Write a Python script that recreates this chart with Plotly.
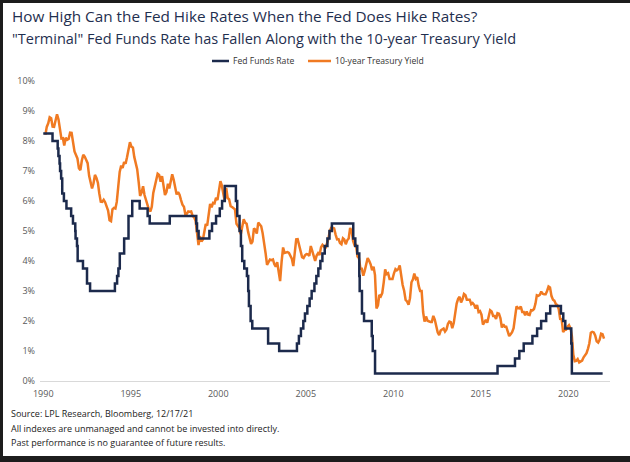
import pandas as pd
import plotly.graph_objects as go

# ---------------- data ----------------
ff_dates = ["1990-01-01","1990-07-13","1990-10-29","1990-11-13","1990-12-07","1990-12-18",
    "1991-01-09","1991-02-01","1991-03-08","1991-04-30","1991-08-06","1991-09-13","1991-10-31",
    "1991-11-06","1991-12-06","1991-12-20","1992-04-09","1992-07-02","1992-09-04",
    "1994-02-04","1994-03-22","1994-04-18","1994-05-17","1994-08-16","1994-11-15","1995-02-01",
    "1995-07-06","1995-12-19","1996-01-31","1997-03-25","1998-09-29","1998-10-15","1998-11-17",
    "1999-06-30","1999-08-24","1999-11-16","2000-02-02","2000-03-21","2000-05-16",
    "2001-01-03","2001-01-31","2001-03-20","2001-04-18","2001-05-15","2001-06-27","2001-08-21",
    "2001-09-17","2001-10-02","2001-11-06","2001-12-11","2002-11-06","2003-06-25",
    "2004-06-30","2004-08-10","2004-09-21","2004-11-10","2004-12-14","2005-02-02","2005-03-22",
    "2005-05-03","2005-06-30","2005-08-09","2005-09-20","2005-11-01","2005-12-13","2006-01-31",
    "2006-03-28","2006-05-10","2006-06-29","2007-09-18","2007-10-31","2007-12-11","2008-01-22",
    "2008-01-30","2008-03-18","2008-04-30","2008-10-08","2008-10-29","2008-12-16",
    "2015-12-16","2016-12-14","2017-03-15","2017-06-14","2017-12-13","2018-03-21","2018-06-13",
    "2018-09-26","2018-12-19","2019-07-31","2019-09-18","2019-10-30","2020-03-03","2020-03-15",
    "2021-12-17"]
ff_rate = [8.25,8.00,7.75,7.50,7.25,7.00,
    6.75,6.25,6.00,5.75,5.50,5.25,5.00,
    4.75,4.50,4.00,3.75,3.25,3.00,
    3.25,3.50,3.75,4.25,4.75,5.50,6.00,
    5.75,5.50,5.25,5.50,5.25,5.00,4.75,
    5.00,5.25,5.50,5.75,6.00,6.50,
    6.00,5.50,5.00,4.50,4.00,3.75,3.50,
    3.00,2.50,2.00,1.75,1.25,1.00,
    1.25,1.50,1.75,2.00,2.25,2.50,2.75,
    3.00,3.25,3.50,3.75,4.00,4.25,4.50,
    4.75,5.00,5.25,4.75,4.50,4.25,3.50,
    3.00,2.25,2.00,1.50,1.00,0.25,
    0.50,0.75,1.00,1.25,1.50,1.75,2.00,
    2.25,2.50,2.25,2.00,1.75,1.25,0.25,
    0.25]

ty_start = "1990-01-15"
ty_yield = [
    8.21,8.47,8.59,8.79,8.76,8.48,8.47,8.75,8.89,8.72,8.39,8.08,
    8.09,7.85,8.11,8.04,8.07,8.28,8.27,7.90,7.65,7.53,7.42,7.09,
    7.03,7.34,7.54,7.48,7.39,7.26,6.84,6.59,6.42,6.59,6.87,6.77,
    6.60,6.26,5.98,5.97,6.04,5.96,5.81,5.68,5.36,5.33,5.72,5.77,
    5.75,5.97,6.48,6.97,7.18,7.10,7.30,7.24,7.46,7.74,7.96,7.81,
    7.78,7.47,7.20,7.06,6.63,6.17,6.28,6.49,6.20,6.04,5.93,5.71,
    5.65,5.81,6.27,6.51,6.74,6.91,6.87,6.64,6.83,6.53,6.20,6.30,
    6.58,6.42,6.69,6.89,6.71,6.49,6.22,6.30,6.21,6.03,5.88,5.81,
    5.54,5.57,5.65,5.64,5.65,5.50,5.46,5.34,4.81,4.53,4.83,4.65,
    4.72,5.00,5.23,5.18,5.54,5.90,5.79,5.94,5.92,6.11,6.03,6.28,
    6.66,6.52,6.26,5.99,6.44,6.10,6.05,5.83,5.80,5.74,5.72,5.24,
    5.16,5.10,4.89,5.14,5.39,5.28,5.24,4.97,4.73,4.57,4.65,5.09,
    5.04,4.91,5.28,5.21,5.16,4.93,4.65,4.26,3.87,3.94,4.05,4.03,
    4.05,3.90,3.81,3.96,3.57,3.33,3.98,4.45,4.27,4.29,4.30,4.27,
    4.15,4.08,3.83,4.35,4.72,4.73,4.50,4.28,4.13,4.10,4.19,4.23,
    4.22,4.17,4.50,4.34,4.14,4.00,4.18,4.26,4.20,4.46,4.54,4.47,
    4.42,4.57,4.72,4.99,5.11,5.11,5.09,4.88,4.72,4.73,4.60,4.56,
    4.76,4.72,4.56,4.69,4.75,5.10,5.00,4.67,4.52,4.53,4.15,4.10,
    3.74,3.74,3.51,3.68,3.88,4.10,4.01,3.89,3.69,3.81,3.53,2.42,
    2.52,2.87,2.82,2.93,3.29,3.72,3.56,3.59,3.40,3.39,3.40,3.59,
    3.73,3.69,3.73,3.85,3.42,3.20,3.01,2.70,2.65,2.54,2.76,3.29,
    3.39,3.58,3.41,3.46,3.17,3.00,3.00,2.30,1.98,2.15,2.01,1.98,
    1.97,1.97,2.17,2.05,1.80,1.62,1.53,1.68,1.72,1.75,1.65,1.72,
    1.91,1.98,1.96,1.76,1.93,2.30,2.58,2.74,2.81,2.62,2.72,2.90,
    2.86,2.71,2.72,2.71,2.56,2.60,2.54,2.42,2.53,2.30,2.33,2.21,
    1.88,1.98,2.04,1.94,2.20,2.36,2.32,2.17,2.17,2.07,2.26,2.24,
    2.09,1.78,1.89,1.81,1.81,1.64,1.50,1.56,1.63,1.76,2.14,2.49,
    2.43,2.42,2.48,2.30,2.30,2.19,2.32,2.21,2.20,2.36,2.35,2.40,
    2.58,2.86,2.84,2.87,2.98,2.91,2.89,2.89,3.00,3.15,3.12,2.83,
    2.71,2.68,2.57,2.53,2.40,2.07,2.06,1.63,1.70,1.71,1.81,1.86,
    1.76,1.50,0.87,0.66,0.67,0.73,0.62,0.65,0.68,0.79,0.87,0.93,
    1.08,1.26,1.61,1.64,1.62,1.52,1.32,1.28,1.37,1.58,1.56,1.41]
ty_dates = pd.date_range(ty_start, periods=len(ty_yield), freq="MS") + pd.Timedelta(days=14)

y_ticks = [0, 1, 2, 3, 4, 5, 6, 7, 8, 9, 10]
y_tick_text = ["0%","1%","2%","3%","4%","5%","6%","7%","8%","9%","10%"]
x_tick_years = ["1990","1995","2000","2005","2010","2015","2020"]

title_text = "How High Can the Fed Hike Rates When the Fed Does Hike Rates?"
subtitle_text = "\"Terminal\" Fed Funds Rate has Fallen Along with the 10-year Treasury Yield"
footer_lines = ["Source: LPL Research, Bloomberg, 12/17/21",
                "All indexes are unmanaged and cannot be invested into directly.",
                "Past performance is no guarantee of future results."]
series_names = ["Fed Funds Rate", "10-year Treasury Yield"]

# ---------------- layout geometry ----------------
W, H = 630, 462
L, R, T, B = 40, 20, 81, 81
PW, PH = W - L - R, H - T - B

def px(x):
    return (x - L) / PW

def py(y):
    return (H - B - y) / PH

NAVY = "#1c2a4c"
ORANGE = "#f07a22"
FONT = "Open Sans"
BORDER = "#1d1d1d"

fig = go.Figure()
fig.add_trace(go.Scatter(x=ty_dates, y=ty_yield, mode="lines", name=series_names[1],
                         line=dict(color=ORANGE, width=2.5)))
fig.add_trace(go.Scatter(x=pd.to_datetime(ff_dates), y=ff_rate, mode="lines", name=series_names[0],
                         line=dict(color=NAVY, width=2.5, shape="hv")))

annotations = [
    dict(text=title_text, x=px(10), y=py(16), xref="paper", yref="paper", xanchor="left",
         yanchor="middle", showarrow=False, font=dict(family=FONT, size=15.3, color="#1f2f4f")),
    dict(text=subtitle_text, x=px(10), y=py(38), xref="paper", yref="paper", xanchor="left",
         yanchor="middle", showarrow=False, font=dict(family=FONT, size=14.5, color="#1f2f4f")),
]
for i, t in enumerate(footer_lines):
    annotations.append(dict(text=t, x=px(9), y=py(413 + 15 * i), xref="paper", yref="paper",
                            xanchor="left", yanchor="middle", showarrow=False,
                            font=dict(family=FONT, size=9, color="#222222")))

# legend (drawn by hand to match the short line samples)
leg = [(212, 229, 231, series_names[0], NAVY), (308, 331, 333, series_names[1], ORANGE)]
shapes = [
    # white page inside the dark screen frame (frame = paper background)
    dict(type="rect", xref="paper", yref="paper", x0=px(3), x1=px(W + 2), y0=py(3), y1=py(456),
         fillcolor="white", line=dict(width=0), layer="below"),
]
for x0, x1, xt, name, col in leg:
    shapes.append(dict(type="line", xref="paper", yref="paper", x0=px(x0), x1=px(x1),
                       y0=py(61), y1=py(61), line=dict(color=col, width=2.5)))
    annotations.append(dict(text=name, x=px(xt), y=py(61), xref="paper", yref="paper",
                            xanchor="left", yanchor="middle", showarrow=False,
                            font=dict(family=FONT, size=8.6, color="#333333")))

fig.update_layout(
    width=W, height=H, margin=dict(l=L, r=R, t=T, b=B),
    paper_bgcolor=BORDER, plot_bgcolor="white", showlegend=False,
    annotations=annotations, shapes=shapes,
    font=dict(family=FONT),
)
fig.update_xaxes(type="date", range=["1989-10-25", "2022-05-20"],
                 tickvals=[f"{y}-01-01" for y in x_tick_years], ticktext=x_tick_years,
                 showgrid=False, zeroline=False, showline=True, linecolor="#d9d9d9", linewidth=1,
                 ticks="", ticklabelstandoff=4,
                 tickfont=dict(size=9, color="#595959", family=FONT))
fig.update_yaxes(range=[0, 10], tickvals=y_ticks, ticktext=y_tick_text, showgrid=False,
                 zeroline=False, showline=False, ticks="", ticklabelstandoff=4,
                 tickfont=dict(size=9, color="#595959", family=FONT))

fig.write_html("out.html")
